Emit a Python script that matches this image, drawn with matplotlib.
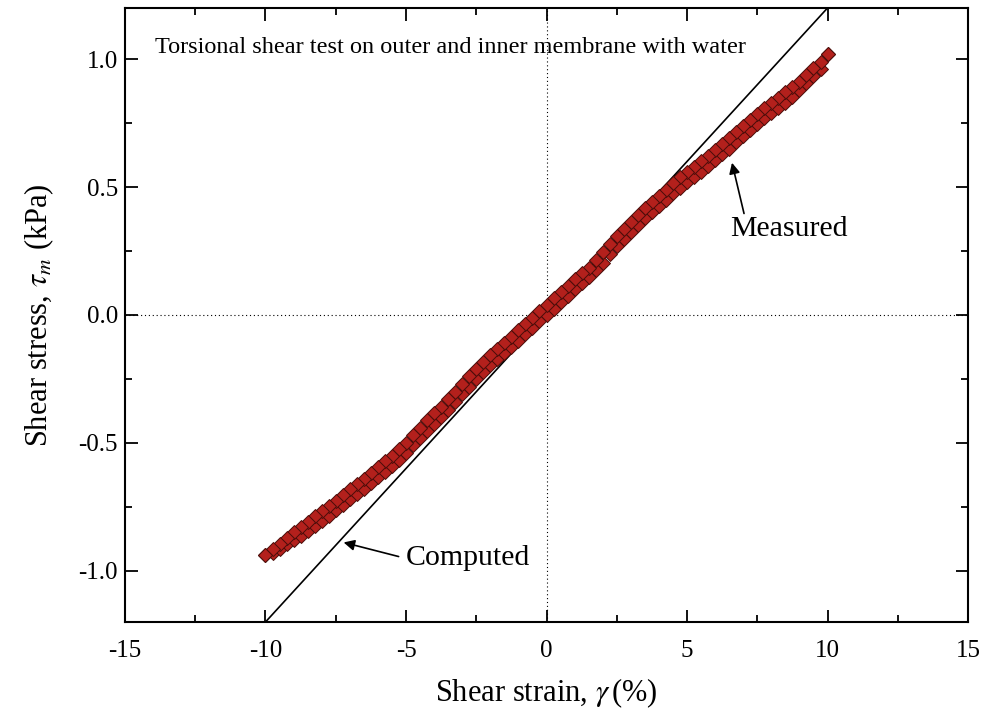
import numpy as np
import matplotlib
matplotlib.use("Agg")
import matplotlib.pyplot as plt

plt.rcParams['font.family'] = ['Liberation Serif', 'DejaVu Serif']
plt.rcParams['mathtext.fontset'] = 'stix'
plt.rcParams['axes.unicode_minus'] = False

# strain grid of the measured points (%)
strain = [-10.0, -9.75, -9.5, -9.25, -9.0, -8.75, -8.5, -8.25, -8.0, -7.75,
          -7.5, -7.25, -7.0, -6.75, -6.5, -6.25, -6.0, -5.75, -5.5, -5.25,
          -5.0, -4.75, -4.5, -4.25, -4.0, -3.75, -3.5, -3.25, -3.0, -2.75,
          -2.5, -2.25, -2.0, -1.75, -1.5, -1.25, -1.0, -0.75, -0.5, -0.25,
          0.0, 0.25, 0.5, 0.75, 1.0, 1.25, 1.5, 1.75, 2.0, 2.25,
          2.5, 2.75, 3.0, 3.25, 3.5, 3.75, 4.0, 4.25, 4.5, 4.75,
          5.0, 5.25, 5.5, 5.75, 6.0, 6.25, 6.5, 6.75, 7.0, 7.25,
          7.5, 7.75, 8.0, 8.25, 8.5, 8.75, 9.0, 9.25, 9.5, 9.75,
          10.0]

# measured shear stress (kPa), loading branch
stress_load = [-0.94, -0.93, -0.915, -0.897, -0.88, -0.862, -0.843, -0.823, -0.804, -0.785,
               -0.764, -0.742, -0.72, -0.70, -0.68, -0.657, -0.635, -0.612, -0.59, -0.566,
               -0.54, -0.51, -0.48, -0.452, -0.425, -0.398, -0.37, -0.34, -0.31, -0.28,
               -0.25, -0.222, -0.195, -0.172, -0.15, -0.125, -0.10, -0.075, -0.05, -0.025,
               0.0, 0.025, 0.05, 0.075, 0.10, 0.125, 0.148, 0.175, 0.205, 0.238,
               0.27, 0.298, 0.325, 0.352, 0.38, 0.402, 0.425, 0.45, 0.475, 0.498,
               0.52, 0.54, 0.56, 0.582, 0.605, 0.628, 0.65, 0.675, 0.70, 0.722,
               0.745, 0.768, 0.79, 0.81, 0.83, 0.852, 0.878, 0.905, 0.935, 0.962,
               1.02]

# measured shear stress (kPa), unloading branch
stress_unload = [-0.94, -0.915, -0.895, -0.873, -0.85, -0.828, -0.808, -0.787, -0.766, -0.745,
                 -0.726, -0.702, -0.68, -0.66, -0.64, -0.618, -0.595, -0.572, -0.55, -0.524,
                 -0.50, -0.47, -0.44, -0.412, -0.385, -0.358, -0.33, -0.30, -0.27, -0.24,
                 -0.21, -0.182, -0.155, -0.132, -0.11, -0.085, -0.06, -0.035, -0.01, 0.015,
                 0.04, 0.065, 0.09, 0.115, 0.14, 0.165, 0.185, 0.215, 0.245, 0.278,
                 0.31, 0.338, 0.365, 0.392, 0.42, 0.442, 0.465, 0.49, 0.515, 0.538,
                 0.56, 0.58, 0.60, 0.622, 0.645, 0.668, 0.69, 0.715, 0.74, 0.762,
                 0.785, 0.808, 0.83, 0.85, 0.87, 0.892, 0.912, 0.938, 0.965, 0.988,
                 1.02]

# computed line end points
comp_strain = [-10.0, 10.0]
comp_stress = [-1.2, 1.2]

fig = plt.figure(figsize=(9.88, 7.18), dpi=100)
ax = fig.add_axes([0.1265, 0.1337, 0.8533, 0.8552])

ax.axvline(0, color='black', lw=0.8, ls=(0, (1, 2.5)), zorder=1)
ax.axhline(0, color='black', lw=0.8, ls=(0, (1, 2.5)), zorder=1)

ax.plot(comp_strain, comp_stress, color='black', lw=1.2, zorder=2)

mk = dict(ls='none', marker='D', ms=7.0, mfc='#b3201c', mec='#4a0d0a', mew=0.7, zorder=3)
ax.plot(strain, stress_load, **mk)
ax.plot(strain[::-1], stress_unload[::-1], **mk)

ax.set_xlim(-15, 15)
ax.set_ylim(-1.2, 1.2)
ax.set_xticks([-15, -10, -5, 0, 5, 10, 15])
ax.set_yticks([-1.0, -0.5, 0.0, 0.5, 1.0])
ax.set_yticklabels(['-1.0', '-0.5', '0.0', '0.5', '1.0'])
ax.set_xticks(np.arange(-15, 15.1, 2.5), minor=True)
ax.set_yticks(np.arange(-1.0, 1.01, 0.25), minor=True)
ax.tick_params(which='both', direction='in', top=True, right=True, width=1.3)
ax.tick_params(which='major', length=9, labelsize=18)
ax.tick_params(axis='x', which='major', pad=13)
ax.tick_params(axis='y', which='major', pad=5)
ax.tick_params(which='minor', length=5)
for s in ax.spines.values():
    s.set_linewidth(1.5)

ax.set_xlabel(r'Shear strain, $\gamma\,$(%)', fontsize=22, labelpad=10)
ax.set_ylabel(r'Shear stress, $\tau_{m}$ (kPa)', fontsize=22, labelpad=16)

ax.text(0.036, 0.936, 'Torsional shear test on outer and inner membrane with water',
        transform=ax.transAxes, fontsize=17.5, va='center', ha='left')

ax.annotate('Measured', xy=(6.6, 0.595), xytext=(6.55, 0.335), fontsize=21.5,
            va='center', ha='left',
            arrowprops=dict(arrowstyle='-|>', color='black', lw=1.2,
                            shrinkA=0, shrinkB=0, mutation_scale=16,
                            relpos=(0.12, 1.0)))
ax.annotate('Computed', xy=(-7.22, -0.889), xytext=(-5.02, -0.951), fontsize=21.5,
            va='center', ha='left',
            arrowprops=dict(arrowstyle='-|>', color='black', lw=1.2,
                            shrinkA=3, shrinkB=0, mutation_scale=16,
                            relpos=(0.0, 0.5)))

fig.savefig('out.png', dpi=100)
